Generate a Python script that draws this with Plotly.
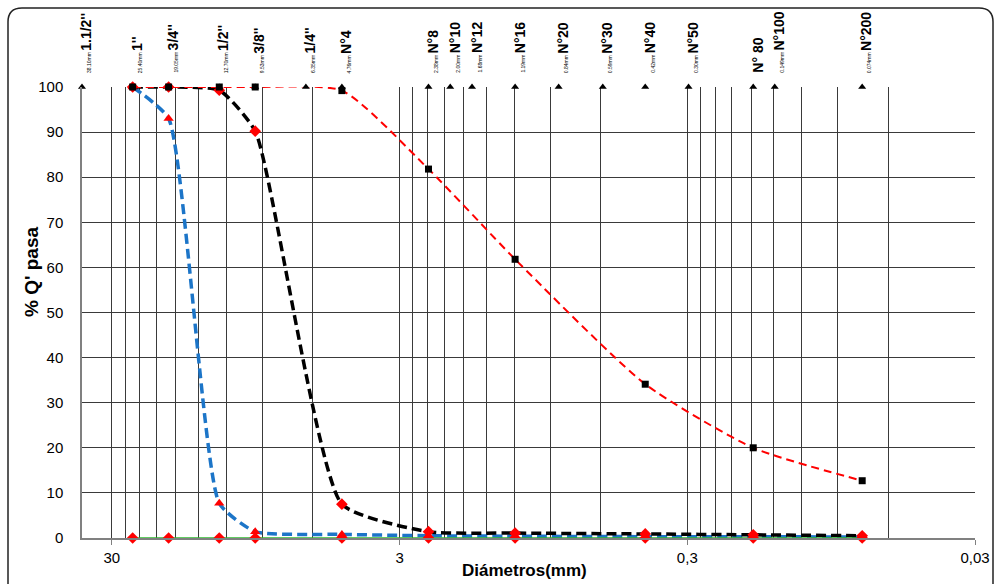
import numpy as np
import plotly.graph_objects as go

# ---- data ----
sieve_labels = ["1.1/2''", "1''", "3/4''", "1/2''", "3/8''", "1/4''", "N°4", "N°8", "N°10",
                "N°12", "N°16", "N°20", "N°30", "N°40", "N°50", "N° 80", "N°100", "N°200"]
sieve_mm = [38.1, 25.4, 19.05, 12.7, 9.525, 6.35, 4.76, 2.38, 2.0,
            1.68, 1.19, 0.84, 0.59, 0.42, 0.297, 0.177, 0.149, 0.074]
sieve_small = ["38.10mm", "25.40mm", "19.05mm", "12.70mm", "9.53mm", "6.35mm", "4.76mm", "2.38mm", "2.00mm",
               "1.68mm", "1.19mm", "0.84mm", "0.59mm", "0.42mm", "0.30mm", "", "0.149mm", "0.074mm"]
top_level = [100] * len(sieve_mm)

sample_mm = [25.4, 19.05, 12.7, 9.525, 4.76, 2.38, 1.19, 0.42, 0.177, 0.074]
serie_a = [100, 100, 100, 100, 99.2, 81.8, 61.8, 34.1, 20.0, 12.7]   # red dashed, black squares
serie_b = [100, 100, 99.3, 90.2, 7.5, 1.4, 1.1, 0.9, 0.7, 0.5]       # black dashed, red diamonds
serie_c = [100, 93.0, 7.7, 1.4, 0.8, 0.5, 0.4, 0.3, 0.3, 0.2]        # blue dashed, red triangles
serie_d = [0, 0, 0, 0, 0, 0, 0, 0, 0, 0]                              # green, red diamonds

major_ticks = [30, 3, 0.3, 0.03]
major_text = ["30", "3", "0,3", "0,03"]
minor_mult = [2, 3, 4, 5, 6, 7, 8, 9]
minor_ticks = [m * b for b in [0.03, 0.3, 3] for m in minor_mult]

y_ticks = list(range(0, 101, 10))

# ---- layout geometry (pixels) ----
W, H = 996, 584
ML, MR, MT, MB = 82, 21, 87, 46
PW, PH = W - ML - MR, H - MT - MB


def px(x):
    return (x - ML) / PW


def py(y):
    return (H - MB - y) / PH


FONT = "Arial, Liberation Sans, sans-serif"
GRID = "#3a3a3a"

fig = go.Figure()

fig.add_trace(go.Scatter(x=sample_mm, y=serie_c, mode="lines+markers",
                         line=dict(color="#1C75C8", width=3.5, dash="10px,5px", shape="spline", smoothing=0.5),
                         marker=dict(symbol="triangle-up", size=9, color="#FF0000"),
                         cliponaxis=False))
fig.add_trace(go.Scatter(x=sample_mm, y=serie_b, mode="lines+markers",
                         line=dict(color="#000000", width=3.5, dash="10px,5px", shape="spline", smoothing=0.5),
                         marker=dict(symbol="diamond", size=9, color="#FF0000"),
                         cliponaxis=False))
fig.add_trace(go.Scatter(x=sample_mm, y=serie_d, mode="lines+markers",
                         line=dict(color="#2EB82E", width=1.5),
                         marker=dict(symbol="diamond", size=9, color="#FF0000"),
                         cliponaxis=False))
fig.add_trace(go.Scatter(x=sample_mm, y=serie_a, mode="lines+markers",
                         line=dict(color="#FF0000", width=2, dash="8px,5px", shape="spline", smoothing=0.6),
                         marker=dict(symbol="square", size=7, color="#000000"),
                         cliponaxis=False))
fig.add_trace(go.Scatter(x=sieve_mm, y=top_level, mode="markers",
                         marker=dict(symbol="triangle-up", size=7, color="#000000"),
                         cliponaxis=False))

# sieve labels along the top
for lab, mm, small in zip(sieve_labels, sieve_mm, sieve_small):
    txt = (f"<span style='font-size:5px'>{small} </span>" if small else "") + f"<b>{lab}</b>"
    fig.add_annotation(x=np.log10(mm), xref="x", y=py(75), yref="paper",
                       text=txt, textangle=-90, showarrow=False,
                       xanchor="center", yanchor="bottom", xshift=4,
                       font=dict(family=FONT, size=14, color="#000000"))

# axis titles
fig.add_annotation(x=px(31), y=py(272), xref="paper", yref="paper", text="<b>% Q' pasa</b>",
                   textangle=-90, showarrow=False, xanchor="center", yanchor="middle",
                   font=dict(family=FONT, size=19, color="#000000"))
fig.add_annotation(x=px(524), y=py(570), xref="paper", yref="paper", text="<b>Diámetros(mm)</b>",
                   showarrow=False, xanchor="center", yanchor="middle",
                   font=dict(family=FONT, size=17, color="#000000"))

# chart-area border with rounded top corners
x0, x1, y0, y1, r = 8, 993, 8, 600, 14
path = (f"M {px(x0)},{py(y1)} L {px(x0)},{py(y0 + r)} Q {px(x0)},{py(y0)} {px(x0 + r)},{py(y0)} "
        f"L {px(x1 - r)},{py(y0)} Q {px(x1)},{py(y0)} {px(x1)},{py(y0 + r)} L {px(x1)},{py(y1)}")
fig.add_shape(type="path", path=path, xref="paper", yref="paper",
              line=dict(color="#222222", width=1.5), layer="above")

fig.update_layout(
    width=W, height=H,
    margin=dict(l=ML, r=MR, t=MT, b=MB, autoexpand=False),
    paper_bgcolor="white", plot_bgcolor="white",
    showlegend=False,
    font=dict(family=FONT, color="#000000"),
    xaxis=dict(type="log", range=[np.log10(38.1), np.log10(0.03)],
               tickmode="array", tickvals=major_ticks, ticktext=major_text,
               tickfont=dict(family=FONT, size=15, color="#000000"),
               ticks="outside", ticklen=5, tickcolor="#808080",
               showgrid=True, gridcolor=GRID, gridwidth=1,
               minor=dict(tickmode="array", tickvals=minor_ticks, showgrid=True,
                          gridcolor=GRID, gridwidth=1, ticks=""),
               showline=True, linecolor="#808080", linewidth=1.5,
               zeroline=False),
    yaxis=dict(range=[0, 100], tickmode="array", tickvals=y_ticks,
               tickfont=dict(family=FONT, size=15, color="#000000"),
               ticks="", ticklabelstandoff=14,
               showgrid=True, gridcolor=GRID, gridwidth=1,
               showline=True, linecolor="#808080", linewidth=1.5,
               zeroline=False),
)

fig.write_html("out.html", config={"displayModeBar": False},
               post_script="document.body.style.margin='0';document.body.style.overflow='hidden';")
